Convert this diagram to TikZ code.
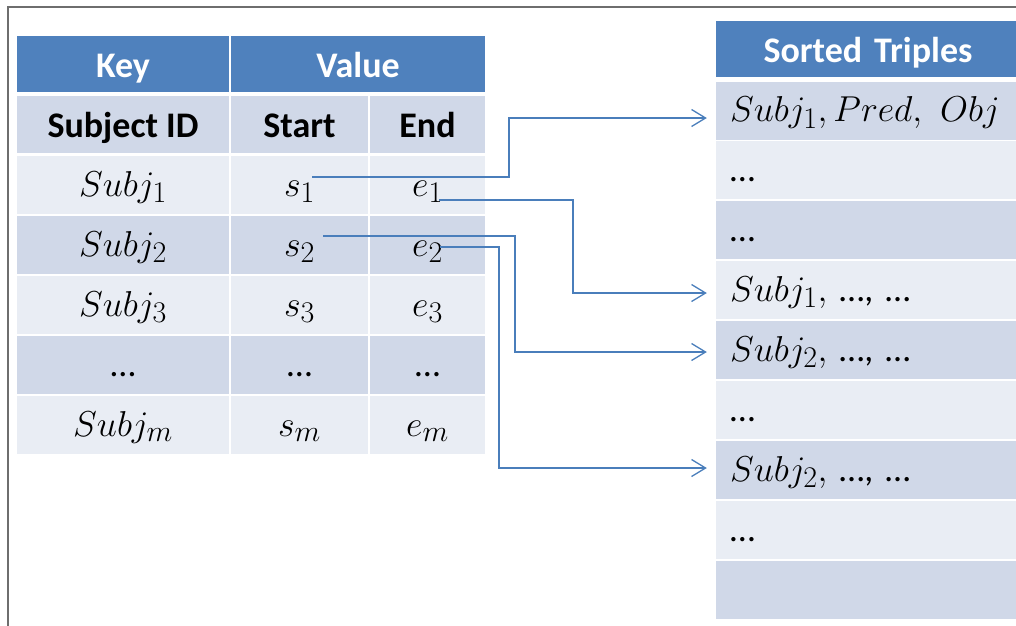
\RequirePackage{fix-cm}
\documentclass[tikz,border=0pt]{standalone}
\usepackage{fontspec}
\setmainfont{Carlito}
\DeclareMathSizes{36}{36}{30}{24}
\usetikzlibrary{arrows.meta, calc}

\definecolor{hdblue}{HTML}{4F81BD}
\definecolor{rowdark}{HTML}{D0D8E8}
\definecolor{rowlight}{HTML}{E9EDF4}
\definecolor{linkblue}{HTML}{4A7EBB}
\definecolor{framegray}{HTML}{6E6E6E}

\tikzset{
	cell/.style={rectangle, inner sep=0pt, minimum height=58pt, text height=28pt, text depth=6pt, font=\fontsize{36}{42}\selectfont},
	head/.style={cell, fill=hdblue, text=white, minimum height=56pt, text height=26pt, text depth=0pt, font=\fontsize{36}{42}\selectfont\bfseries},
	subhead/.style={cell, fill=rowdark, minimum height=57pt, text height=26pt, text depth=0pt, font=\fontsize{36}{42}\selectfont\bfseries},
	triple/.style={text width=276pt, inner xsep=14pt, align=left},
	link/.style={linkblue, line width=1.3pt, -{Straight Barb[length=14pt, width=17pt]}},
}

\begin{document}
\begin{tikzpicture}[x=1pt, y=-1pt]
	\useasboundingbox (0,0) rectangle (1016,625);
	\clip (0,0) rectangle (1016,625);
	
	% Outer frame
	\draw[framegray, line width=1.8pt] (8,640) -- (8,7) -- (1040,7);
	
	% Index table: header rows
	\node[head, minimum width=212pt] (key) at (123,64) {Key};
	\node[head, minimum width=254pt] (value) at (358,64) {Value};
	\node[subhead, minimum width=212pt] (subid) at (123,124.5) {Subject ID};
	\node[subhead, minimum width=137pt] (start) at (299.5,124.5) {Start};
	\node[subhead, minimum width=115pt] (end) at (427.5,124.5) {End};
	
	% Index table: one row per subject
	\foreach \yy/\rowfill/\i/\ktext/\stext/\etext in {
		185/rowlight/1/{$Subj_1$}/{$s_1$}/{$e_1$},
		245/rowdark/2/{$Subj_2$}/{$s_2$}/{$e_2$},
		305/rowlight/3/{$Subj_3$}/{$s_3$}/{$e_3$},
		365/rowdark/d/{…}/{…}/{…},
		425/rowlight/m/{$Subj_m$}/{$s_m$}/{$e_m$}} {
		\node[cell, fill=\rowfill, minimum width=212pt] (k\i) at (123,\yy) {\ktext};
		\node[cell, fill=\rowfill, minimum width=137pt] (s\i) at (299.5,\yy) {\stext};
		\node[cell, fill=\rowfill, minimum width=115pt] (e\i) at (427.5,\yy) {\etext};
	}
	
	% Sorted triples table
	\node[head, triple, align=center] (sorted) at (868,49) {Sorted Triples};
	\foreach \yy/\rowfill/\j/\ttext in {
		110.5/rowdark/1/{$Subj_1, Pred,\ Obj$},
		170/rowlight/2/{…},
		230/rowdark/3/{…},
		290/rowlight/4/{$Subj_1,$ …, …},
		350/rowdark/5/{$Subj_2,$ …, …},
		410/rowlight/6/{…},
		470/rowdark/7/{$Subj_2,$ …, …},
		530/rowlight/8/{…},
		590/rowdark/9/{}} {
		\node[cell, triple, fill=\rowfill] (t\j) at (868,\yy) {\ttext};
	}
	
	% Start and end points of the pointers
	\coordinate (from1) at ($(s1)+(12.5,-8)$);
	\coordinate (from2) at ($(e1)+(11.5,15)$);
	\coordinate (from3) at ($(s2)+(23.5,-9)$);
	\coordinate (from4) at ($(e2)+(12.5,2)$);
	\coordinate (to1) at ($(t1.west)+(-9,7.5)$);
	\coordinate (to2) at ($(t4.west)+(-9,3)$);
	\coordinate (to3) at ($(t5.west)+(-9,2)$);
	\coordinate (to4) at ($(t7.west)+(-9,-2)$);
	
	% Pointers into the sorted triples
	\draw[link] (from1) -- ++(197,0) |- (to1);
	\draw[link] (from2) -- ++(134,0) |- (to2);
	\draw[link] (from3) -- ++(192,0) |- (to3);
	\draw[link] (from4) -- ++(59,0) |- (to4);
\end{tikzpicture}
\end{document}
